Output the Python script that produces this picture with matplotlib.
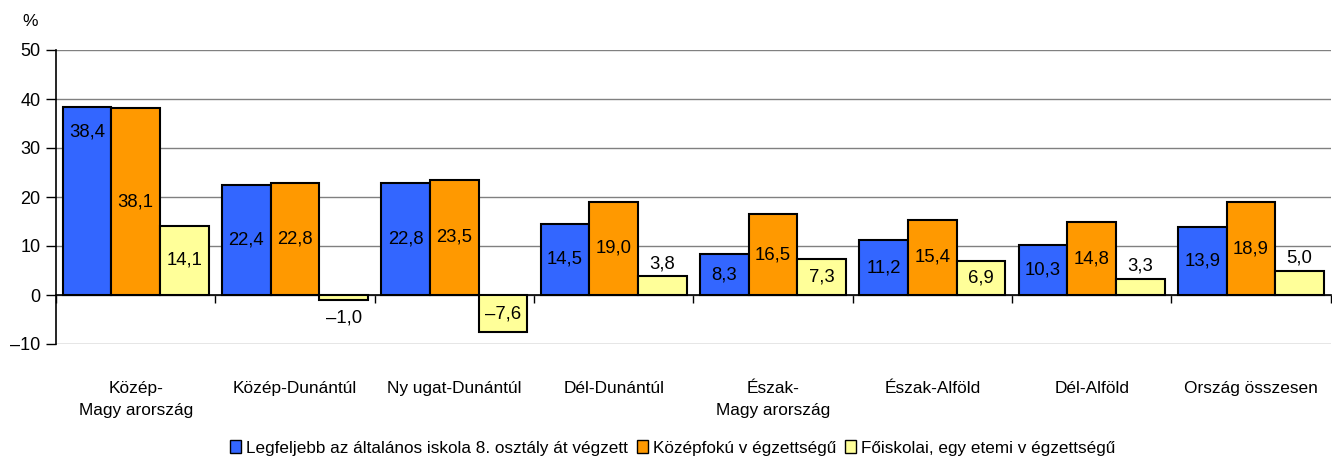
import matplotlib
matplotlib.use("Agg")
import matplotlib.pyplot as plt
import numpy as np
from matplotlib.patches import Patch

categories = ["Közép-\nMagy arország", "Közép-Dunántúl", "Ny ugat-Dunántúl", "Dél-Dunántúl",
              "Észak-\nMagy arország", "Észak-Alföld", "Dél-Alföld", "Ország összesen"]
series_names = ["Legfeljebb az általános iskola 8. osztály át végzett",
                "Középfokú v égzettségű",
                "Főiskolai, egy etemi v égzettségű"]
elem = [38.4, 22.4, 22.8, 14.5, 8.3, 11.2, 10.3, 13.9]
kozep = [38.1, 22.8, 23.5, 19.0, 16.5, 15.4, 14.8, 18.9]
felso = [14.1, -1.0, -7.6, 3.8, 7.3, 6.9, 3.3, 5.0]
colors = ["#3366FF", "#FF9900", "#FFFF99"]
yticks = [-10, 0, 10, 20, 30, 40, 50]

plt.rcParams['font.family'] = ['Liberation Sans', 'DejaVu Sans']

fig = plt.figure(figsize=(13.32, 4.57), dpi=100)
ax = fig.add_axes([56/1332, 1-344/457, 1-56/1332-0.001, (344-50)/457])

n = len(categories)
x = np.arange(n) + 0.5
w = 0.305
lfs = 13.3
series = [elem, kozep, felso]
for k, (vals, c) in enumerate(zip(series, colors)):
    xs = x + (k - 1) * w
    ax.bar(xs, vals, width=w, color=c, edgecolor="black", linewidth=1.5, zorder=3)
    for i, (xx, v) in enumerate(zip(xs, vals)):
        txt = f"{abs(v):.1f}".replace(".", ",")
        if v < 0:
            txt = "\u2013" + txt
        if abs(v) < 6:
            if v >= 0:
                ax.text(xx, v + 0.8, txt, ha="center", va="bottom", fontsize=lfs, zorder=4)
            else:
                ax.text(xx, v - 2.0, txt, ha="center", va="top", fontsize=lfs, zorder=4)
        else:
            yy = v / 2
            if k == 0 and i == 0:
                yy = v - 5.2
            ax.text(xx, yy, txt, ha="center", va="center", fontsize=lfs, zorder=4)

ax.set_xlim(0, n)
ax.set_ylim(-10, 50)
ax.set_yticks(yticks)
ax.set_yticklabels([("\u2013" + str(abs(t))) if t < 0 else str(t) for t in yticks], fontsize=13)
ax.yaxis.grid(True, color="#808080", linewidth=1, zorder=0)
ax.tick_params(axis="y", direction="out", length=7, width=1, pad=4)

# x axis at zero
ax.spines["bottom"].set_position(("data", 0))
ax.spines["bottom"].set_linewidth(1.2)
ax.spines["bottom"].set_zorder(5)
ax.spines["top"].set_visible(False)
ax.spines["right"].set_visible(False)
ax.spines["left"].set_linewidth(1.2)
ax.set_xticks(x)
ax.set_xticklabels(categories, fontsize=12.4, linespacing=1.6)
ax.set_xticks(np.arange(n + 1), minor=True)
ax.tick_params(axis="x", which="major", length=0, pad=62)
ax.tick_params(axis="x", which="minor", direction="out", length=6, width=1)
for lab in ax.get_xticklabels():
    lab.set_va("top")

fig.text(22/1332, 1-22/457, "%", fontsize=12.5, ha="left", va="center")

handles = [Patch(facecolor=c, edgecolor="black", linewidth=1) for c in colors]
fig.legend(handles, series_names, loc="center", bbox_to_anchor=(0.505, 1-448/457), ncol=3,
           frameon=False, fontsize=12.3, handlelength=0.65, handleheight=0.8,
           handletextpad=0.3, columnspacing=0.5, borderaxespad=0)

fig.savefig("out.png", dpi=100)
